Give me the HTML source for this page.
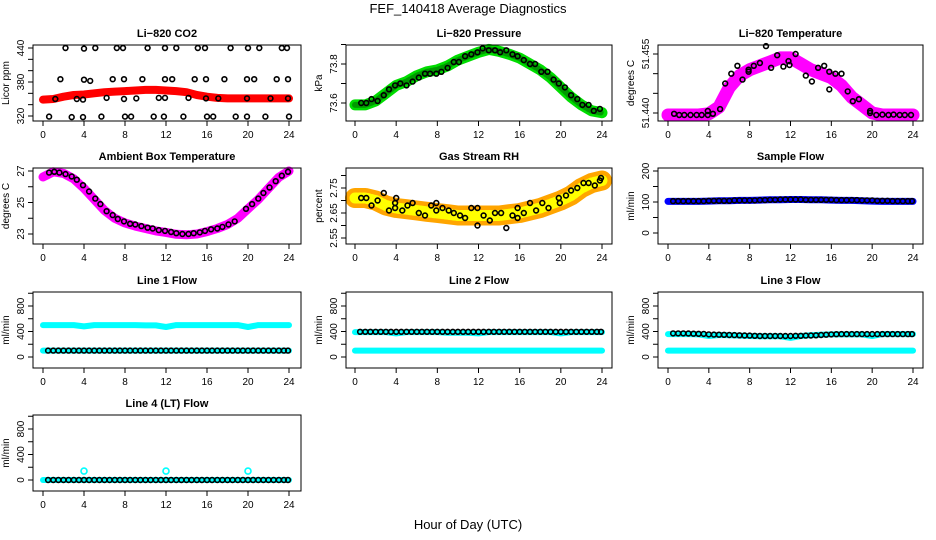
<!DOCTYPE html>
<html><head><meta charset="utf-8">
<style>
html,body{margin:0;padding:0;background:#fff;}
svg{display:block;font-family:"Liberation Sans",sans-serif;}
</style></head>
<body>
<svg id="chart" width="936" height="540" viewBox="0 0 936 540" xmlns="http://www.w3.org/2000/svg">
<text x="468" y="13" text-anchor="middle" font-size="13">FEF_140418  Average Diagnostics</text>
<text x="468" y="529" text-anchor="middle" font-size="13">Hour of Day (UTC)</text>
</svg>
<script>
// ---------- data ----------
const HOURS = [0,1,2,3,4,5,6,7,8,9,10,11,12,13,14,15,16,17,18,19,20,21,22,23,24];
const HALF_H = [0.5,1,1.5,2,2.5,3,3.5,4,4.5,5,5.5,6,6.5,7,7.5,8,8.5,9,9.5,10,10.5,11,11.5,12,12.5,13,13.5,14,14.5,15,15.5,16,16.5,17,17.5,18,18.5,19,19.5,20,20.5,21,21.5,22,22.5,23,23.5,23.9];
const X_TICKS = [0,4,8,12,16,20,24];

const CO2_RED = [349,350,354,357,358,360,362,363,364,365,366,366,365,364,362,357,354,352,351,351,351,351,351,351,351];
const CO2_BLK_H = [2.2,4.0,5.1,7.2,7.8,10.2,11.9,13.0,15.1,15.8,18.3,20.0,21.1,23.3,23.8, 1.7,4.0,4.6,6.8,7.9,9.7,11.9,12.6,14.8,15.9,17.7,19.9,20.6,22.8,23.9, 1.2,3.3,3.9,6.2,7.9,9.1,11.3,11.9,14.2,15.9,17.1,19.9,22.2,23.9, 0.6,2.8,3.9,5.7,8.0,8.6,10.8,11.8,13.7,16.0,16.6,18.8,19.9,21.7,24.0];
const CO2_BLK_V = [440,439,440,440,440,440,440,440,440,440,440,440,440,440,440, 385,384,382,385,385,385,385,385,385,385,385,385,385,385,385, 350,350,349,352,350,351,352,352,352,351,351,351,351,351, 319,318,318,319,319,319,319,319,319,319,319,319,319,319,319];

const PRES_GREEN = [73.59,73.59,73.61,73.65,73.69,73.71,73.74,73.76,73.77,73.79,73.82,73.84,73.86,73.875,73.865,73.85,73.83,73.80,73.77,73.73,73.68,73.63,73.59,73.56,73.55];
const PRES_BLK_H = [0.6,1.1,1.6,2.2,2.8,3.3,3.9,4.4,5.0,5.6,6.2,6.8,7.3,7.9,8.4,9.0,9.6,10.1,10.7,11.3,11.9,12.4,13.0,13.6,14.1,14.7,15.3,15.8,16.4,17.0,17.5,18.1,18.7,19.3,19.8,20.4,21.0,21.6,22.1,22.7,23.2,23.8];
const PRES_BLK_V = [73.60,73.60,73.62,73.61,73.64,73.67,73.69,73.70,73.69,73.71,73.73,73.75,73.75,73.75,73.76,73.78,73.81,73.81,73.84,73.85,73.86,73.88,73.87,73.87,73.86,73.87,73.85,73.84,73.82,73.80,73.80,73.76,73.76,73.72,73.70,73.68,73.64,73.62,73.59,73.59,73.56,73.57];

const TEMP_MAG = [51.4395,51.4395,51.4395,51.4395,51.4398,51.4415,51.4465,51.4495,51.4510,51.4520,51.4530,51.4540,51.4540,51.4525,51.4510,51.4500,51.4490,51.4470,51.4440,51.4420,51.4400,51.4395,51.4395,51.4395,51.4395];
const TEMP_BLK_H = [0.6,1.1,1.6,2.2,2.8,3.3,3.9,3.9,4.4,5.1,5.6,6.2,6.8,7.3,7.9,7.9,8.4,9.0,9.6,10.1,10.7,11.3,11.8,11.9,12.5,13.5,14.1,14.7,15.3,15.8,15.8,16.4,17.0,17.6,18.1,18.7,19.8,19.8,20.4,21.0,21.6,22.1,22.7,23.2,23.8];
const TEMP_BLK_V = [51.4398,51.4395,51.4395,51.4395,51.4395,51.4395,51.4395,51.4405,51.4398,51.4410,51.4475,51.4500,51.4520,51.4485,51.4505,51.4510,51.4520,51.4527,51.4570,51.4515,51.4547,51.4518,51.4532,51.4522,51.4550,51.4495,51.4480,51.4515,51.4520,51.4505,51.4460,51.4500,51.4500,51.4455,51.4430,51.4435,51.4405,51.4400,51.4395,51.4396,51.4395,51.4396,51.4395,51.4395,51.4395];

const AMB_MAG = [26.62,26.95,26.85,26.5,25.9,25.2,24.5,24.0,23.7,23.5,23.35,23.2,23.1,22.98,22.95,23.0,23.15,23.35,23.6,24.0,24.6,25.2,25.9,26.6,27.0];
const AMB_BLK_H = [0.6,1.1,1.6,2.2,2.8,3.3,3.9,4.5,5.1,5.6,6.2,6.8,7.3,7.9,8.5,9.0,9.6,10.2,10.7,11.3,11.9,12.5,13.0,13.6,14.2,14.7,15.3,15.8,16.4,17.0,17.5,18.1,18.7,19.8,20.4,21.0,21.5,22.1,22.7,23.3,23.9];
const AMB_BLK_V = [26.90,26.95,26.90,26.80,26.65,26.45,26.10,25.70,25.25,24.90,24.45,24.20,23.95,23.80,23.65,23.60,23.50,23.40,23.35,23.25,23.20,23.13,23.05,23.00,23.00,23.05,23.10,23.20,23.30,23.35,23.45,23.60,23.80,24.60,24.90,25.25,25.60,25.95,26.35,26.70,26.95];

const RH_BAND = [2.71,2.71,2.70,2.68,2.67,2.665,2.66,2.655,2.65,2.645,2.64,2.64,2.64,2.64,2.64,2.645,2.65,2.66,2.67,2.685,2.70,2.72,2.75,2.77,2.78];
const RH_BLK_H = [0.6,1.1,1.6,2.2,2.8,3.3,3.9,3.9,4.0,4.6,5.1,5.6,6.2,6.8,7.4,7.9,7.9,8.5,9.1,9.6,10.2,10.7,11.3,11.9,11.9,12.5,13.1,13.6,14.2,14.7,15.3,15.8,15.8,16.4,17.0,17.6,18.2,18.8,19.8,19.9,20.5,21.0,21.6,22.2,22.7,23.3,23.8,23.9];
const RH_BLK_V = [2.71,2.71,2.68,2.70,2.73,2.66,2.69,2.67,2.71,2.66,2.68,2.69,2.65,2.64,2.68,2.69,2.66,2.67,2.66,2.65,2.64,2.63,2.67,2.67,2.60,2.64,2.62,2.65,2.65,2.59,2.64,2.67,2.63,2.65,2.69,2.66,2.69,2.67,2.71,2.69,2.72,2.74,2.75,2.77,2.77,2.76,2.78,2.79];

const SAMP_BLUE = [102,102,102,102,103,104,104,105,105,106,107,107,108,108,107,107,106,105,105,104,103,102,102,102,102];
const SAMP_BLK_V = [103,103,103,103,103,103,103,104,104,104,104,104,105,105,105,105,105,106,106,107,107,108,108,108,108,108,107,107,107,107,107,107,106,106,106,106,106,105,105,105,104,104,104,103,103,103,103,103];

const L1_CYAN_HI = [500,500,500,500,480,500,500,500,500,500,495,495,470,500,500,500,500,500,500,500,470,500,500,500,500];
const L1_CYAN_LO = [100,100,100,100,100,100,100,100,100,100,100,100,100,100,100,100,100,100,100,100,100,100,100,100,100];
const L1_BLK_V = [100,100,100,100,100,100,100,100,100,100,100,100,100,100,100,100,100,100,100,100,100,100,100,100,100,100,100,100,100,100,100,100,100,100,100,100,100,100,100,100,100,100,100,100,100,100,100,100];

const L2_CYAN_HI = [390,390,390,390,370,390,390,390,390,380,380,380,370,390,390,390,390,390,390,390,370,390,390,390,390];
const L2_CYAN_LO = [100,100,100,100,100,100,100,100,100,100,100,100,100,100,100,100,100,100,100,100,100,100,100,100,100];
const L2_BLK_V = [395,395,395,395,395,395,395,395,395,395,395,395,395,395,395,395,395,395,395,395,395,395,395,395,395,395,395,395,395,395,395,395,395,395,395,395,395,395,395,395,395,395,395,395,395,395,395,395];

const L3_CYAN_HI = [360,360,360,355,330,345,340,335,330,325,325,325,300,330,340,350,355,355,355,355,330,360,360,360,360];
const L3_CYAN_LO = [100,100,100,100,100,100,100,100,100,100,100,100,100,100,100,100,100,100,100,100,100,100,100,100,100];
const L3_BLK_V = [370,370,370,368,366,364,362,355,352,350,348,345,343,340,338,335,333,330,330,330,330,330,330,330,332,333,335,338,340,345,350,355,358,360,360,360,360,360,360,360,360,360,360,360,360,360,360,360];

const L4_CYAN = [0,0,0,0,0,0,0,0,0,0,0,0,0,0,0,0,0,0,0,0,0,0,0,0,0];
const L4_SPIKE_H = [4,12,20];
const L4_SPIKE_V = [140,140,140];
const L4_BLK_V = [0,0,0,0,0,0,0,0,0,0,0,0,0,0,0,0,0,0,0,0,0,0,0,0,0,0,0,0,0,0,0,0,0,0,0,0,0,0,0,0,0,0,0,0,0,0,0,0];

// ---------- layout ----------
const svg = document.getElementById('chart');
const NS = 'http://www.w3.org/2000/svg';
const COLS = [{L:33,R:301,x0:43,x24:289},{L:346,R:612,x0:355,x24:602},{L:658,R:923,x0:668,x24:913}];
const ROWS = [45,168,292,415];
const BOX_H = 76;

function mk(tag, attrs, parent){
  const e = document.createElementNS(NS, tag);
  for (const k in attrs) e.setAttribute(k, attrs[k]);
  (parent||svg).appendChild(e);
  return e;
}

function panel(cfg){
  const c = COLS[cfg.col], top = ROWS[cfg.row], bot = top + BOX_H;
  const g = mk('g', {});
  
  
  const xs = h => c.x0 + (c.x24 - c.x0) * h / 24;
  const [v1, p1, v2, p2] = cfg.ycal;
  const ys = v => p1 + (v - v1) * (p2 - p1) / (v2 - v1);

  (cfg.bands || []).forEach(b => {
    const pts = b.h.map((h, i) => xs(h).toFixed(1) + ',' + ys(b.v[i]).toFixed(1)).join(' ');
    const pl = mk('polyline', {points: pts, fill: 'none', stroke: b.color, 'stroke-width': b.w, 'stroke-linecap': 'round', 'stroke-linejoin': 'round'}, g);
    
    
    if (b.inner) {
      const pl2 = mk('polyline', {points: pts, fill: 'none', stroke: b.inner, 'stroke-width': b.w * 0.55, 'stroke-linecap': 'round', 'stroke-dasharray': '2 2'}, g);
      
      
    }
  });
  (cfg.points || []).forEach(p => {
    p.h.forEach((h, i) => {
      const ci = mk('circle', {cx: xs(h).toFixed(1), cy: ys(p.v[i]).toFixed(1), r: p.r || 2.4, fill: 'none', stroke: p.color, 'stroke-width': p.sw || 1.6}, g);
      
      
    });
  });
  const box = mk('rect', {x: c.L, y: top, width: c.R - c.L, height: BOX_H, fill: 'none', stroke: '#000', 'stroke-width': 1}, g);
  
  
  X_TICKS.forEach(t => {
    const x = xs(t);
    mk('line', {x1: x, x2: x, y1: bot, y2: bot + 5, stroke: '#000'}, g);
    const tx = mk('text', {x: x, y: bot + 17, 'text-anchor': 'middle', 'font-size': 10}, g);
    tx.textContent = t;
    
    
  });
  cfg.yticks.forEach((t, i) => {
    const y = ys(t);
    if (y < top - 1 || y > bot + 1) return;
    mk('line', {x1: c.L - 5, x2: c.L, y1: y, y2: y, stroke: '#000'}, g);
    const lab = cfg.ylabels[i];
    if (lab) {
      const tx = mk('text', {x: c.L - 9, y: y, 'text-anchor': 'middle', 'font-size': 10, transform: 'rotate(-90 ' + (c.L - 9) + ' ' + y + ')'}, g);
      tx.textContent = lab;
      
      
    }
  });
  const yl = mk('text', {x: c.L - 24, y: top + BOX_H / 2, 'text-anchor': 'middle', 'font-size': 10, transform: 'rotate(-90 ' + (c.L - 24) + ' ' + (top + BOX_H / 2) + ')'}, g);
  yl.textContent = cfg.ylab;
  
  
  const tt = mk('text', {x: (c.L + c.R) / 2, y: top - 8, 'text-anchor': 'middle', 'font-size': 11, 'font-weight': 'bold'}, g);
  tt.textContent = cfg.title;
  
  
}

const FLOW_T = [0,200,400,600,800,1000];
const FLOW_L = ['0','','400','','800',''];

panel({name:'co2', col:0, row:0, title:'Li\u2212820 CO2', ylab:'Licor ppm', ycal:[440,48,320,116],
  yticks:[320,340,360,380,400,420,440], ylabels:['320','','','380','','','440'],
  bands:[{name:'co2-red-series', h:HOURS, v:CO2_RED, color:'#ff0000', w:8}],
  points:[{name:'co2-black-point', h:CO2_BLK_H, v:CO2_BLK_V, color:'#000'}]});
panel({name:'pressure', col:1, row:0, title:'Li\u2212820 Pressure', ylab:'kPa', ycal:[73.8,64,73.6,103],
  yticks:[73.6,73.7,73.8,73.9], ylabels:['73.6','','73.8',''],
  bands:[{name:'pressure-green-series', h:HOURS, v:PRES_GREEN, color:'#00dd00', w:11, inner:'#009900'}],
  points:[{name:'pressure-black-point', h:PRES_BLK_H, v:PRES_BLK_V, color:'#000'}]});
panel({name:'li820-temp', col:2, row:0, title:'Li\u2212820 Temperature', ylab:'degrees C', ycal:[51.455,54,51.440,113],
  yticks:[51.440,51.445,51.450,51.455], ylabels:['51.440','','','51.455'],
  bands:[{name:'temp-magenta-series', h:HOURS, v:TEMP_MAG, color:'#ff00ff', w:13}],
  points:[{name:'temp-black-point', h:TEMP_BLK_H, v:TEMP_BLK_V, color:'#000'}]});
panel({name:'ambient-temp', col:0, row:1, title:'Ambient Box Temperature', ylab:'degrees C', ycal:[27,171,23,234],
  yticks:[23,24,25,26,27], ylabels:['23','','25','','27'],
  bands:[{name:'ambient-magenta-series', h:HOURS, v:AMB_MAG, color:'#ff00ff', w:9}],
  points:[{name:'ambient-black-point', h:AMB_BLK_H, v:AMB_BLK_V, color:'#000'}]});
panel({name:'gas-rh', col:1, row:1, title:'Gas Stream RH', ylab:'percent', ycal:[2.75,188,2.55,238],
  yticks:[2.55,2.60,2.65,2.70,2.75,2.80], ylabels:['2.55','','2.65','','2.75',''],
  bands:[{name:'rh-orange-series', h:HOURS, v:RH_BAND, color:'#ffa500', w:20, inner:'#ffff00'}],
  points:[{name:'rh-black-point', h:RH_BLK_H, v:RH_BLK_V, color:'#000'}]});
panel({name:'sample-flow', col:2, row:1, title:'Sample Flow', ylab:'ml/min', ycal:[200,171,0,233],
  yticks:[0,50,100,150,200], ylabels:['0','','100','','200'],
  bands:[{name:'sample-blue-series', h:HOURS, v:SAMP_BLUE, color:'#0000ff', w:7}],
  points:[{name:'sample-black-point', h:HALF_H, v:SAMP_BLK_V, color:'#000'}]});
panel({name:'line1-flow', col:0, row:2, title:'Line 1 Flow', ylab:'ml/min', ycal:[0,357,800,306],
  yticks:FLOW_T, ylabels:FLOW_L,
  bands:[{name:'line1-cyan-high', h:HOURS, v:L1_CYAN_HI, color:'#00ffff', w:6},{name:'line1-cyan-low', h:HOURS, v:L1_CYAN_LO, color:'#00ffff', w:6}],
  points:[{name:'line1-black-point', h:HALF_H, v:L1_BLK_V, color:'#000'}]});
panel({name:'line2-flow', col:1, row:2, title:'Line 2 Flow', ylab:'ml/min', ycal:[0,357,800,306],
  yticks:FLOW_T, ylabels:FLOW_L,
  bands:[{name:'line2-cyan-high', h:HOURS, v:L2_CYAN_HI, color:'#00ffff', w:6},{name:'line2-cyan-low', h:HOURS, v:L2_CYAN_LO, color:'#00ffff', w:6}],
  points:[{name:'line2-black-point', h:HALF_H, v:L2_BLK_V, color:'#000'}]});
panel({name:'line3-flow', col:2, row:2, title:'Line 3 Flow', ylab:'ml/min', ycal:[0,357,800,306],
  yticks:FLOW_T, ylabels:FLOW_L,
  bands:[{name:'line3-cyan-high', h:HOURS, v:L3_CYAN_HI, color:'#00ffff', w:6},{name:'line3-cyan-low', h:HOURS, v:L3_CYAN_LO, color:'#00ffff', w:6}],
  points:[{name:'line3-black-point', h:HALF_H, v:L3_BLK_V, color:'#000'}]});
panel({name:'line4-flow', col:0, row:3, title:'Line 4 (LT) Flow', ylab:'ml/min', ycal:[0,480,800,429],
  yticks:FLOW_T, ylabels:FLOW_L,
  bands:[{name:'line4-cyan-series', h:HOURS, v:L4_CYAN, color:'#00ffff', w:6}],
  points:[{name:'line4-black-point', h:HALF_H, v:L4_BLK_V, color:'#000'},{name:'line4-cyan-spike', h:L4_SPIKE_H, v:L4_SPIKE_V, color:'#00ffff', r:3}]});
</script>
</body></html>
